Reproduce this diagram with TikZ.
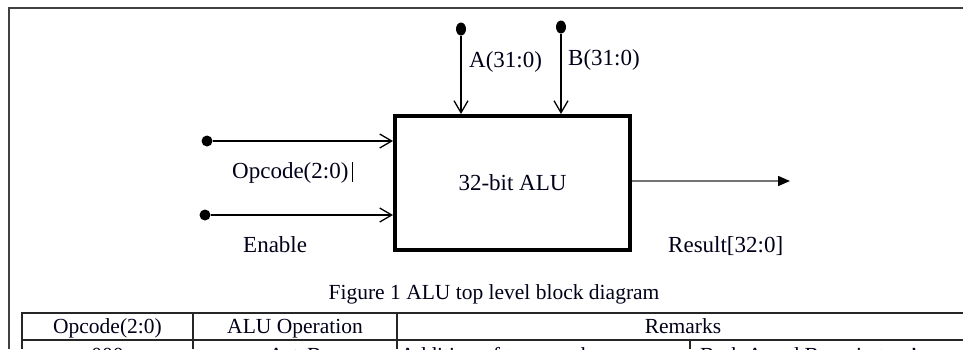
\documentclass[tikz,border=0pt]{standalone}
\usepackage{fontspec}
\setmainfont{Liberation Serif}
\usetikzlibrary{arrows.meta,shapes.geometric}
\begin{document}
\begin{tikzpicture}[x=1pt,y=-1pt,
  lbl/.style={inner sep=0pt,font=\fontsize{23}{27}\selectfont,text=black!90!blue},
  tlbl/.style={inner sep=0pt,font=\fontsize{21.5}{25}\selectfont,text=black!90!blue},
  dotv/.style={ellipse,fill=black,inner sep=0pt,minimum width=10pt,minimum height=13pt},
  doth/.style={circle,fill=black,inner sep=0pt,minimum size=11pt},
  inarrow/.style={line width=1.3pt,-{Straight Barb[length=12pt,width=14pt,line width=1.3pt]}},
  outarrow/.style={line width=1.5pt,draw=black!55,-{Triangle[length=12pt,width=10pt,fill=black,color=black]}},
  alubox/.style={draw,line width=4pt,minimum width=235pt,minimum height=134pt,inner sep=0pt,font=\fontsize{23}{27}\selectfont,text=black!90!blue},
  frameline/.style={line width=1.5pt,draw=black!75},
  tline/.style={line width=1.2pt,draw=black!85}]
\useasboundingbox (0,0) rectangle (963,349);
\clip (0,0) rectangle (963,349);
\fill[white] (0,0) rectangle (963,349);
% frame
\draw[frameline] (963,8) -- (9,8) -- (9,349);
% ALU box
\node[alubox] (alu) at (512.5,183) {32-bit ALU};
% inputs A, B
\node[dotv] (ad) at (461,29) {};
\node[dotv] (bd) at (561,27) {};
\draw[inarrow] (ad) -- (ad |- alu.north);
\draw[inarrow] (bd) -- (bd |- alu.north);
\node[lbl,anchor=base west] (al) at (469,67) {A(31:0)};
\node[lbl,anchor=base west] (bl) at (568,65) {B(31:0)};
% inputs Opcode, Enable
\node[doth] (od) at (207,141) {};
\node[doth] (ed) at (205,215) {};
\draw[inarrow] (od) -- (od -| alu.west);
\draw[inarrow] (ed) -- (ed -| alu.west);
\node[lbl,anchor=base west] (ol) at (232,178) {Opcode(2:0)};
\draw[line width=1pt] (352,162) -- (352,182);
\node[lbl,anchor=base west] (el) at (243,252) {Enable};
% output
\coordinate (rend) at (790,181);
\draw[outarrow] (alu.east |- rend) -- (rend);
\node[lbl,anchor=base west] (rl) at (668,252) {Result[32:0]};
% caption
\node[tlbl,anchor=base] (cap) at (494,299) {Figure 1 ALU top level block diagram};
% table
\draw[tline] (22,349) -- (22,313) -- (963,313);
\draw[tline] (22,340) -- (963,340);
\draw[tline] (193,313) -- (193,349);
\draw[tline] (397,313) -- (397,349);
\draw[tline] (690,340) -- (690,349);
\node[tlbl,anchor=base] (h1) at (107.5,333) {Opcode(2:0)};
\node[tlbl,anchor=base] (h2) at (295,333) {ALU Operation};
\node[tlbl,anchor=base] (h3) at (683,333) {Remarks};
\node[tlbl,anchor=base] (r1) at (107.5,362) {000};
\node[tlbl,anchor=base] (r2) at (295,362) {A + B};
\node[tlbl,anchor=base west] (r3) at (400,362) {Addition of two numbers};
\node[tlbl,anchor=base west] (r4) at (700,362) {Both A and B are in two's};
\end{tikzpicture}
\end{document}
